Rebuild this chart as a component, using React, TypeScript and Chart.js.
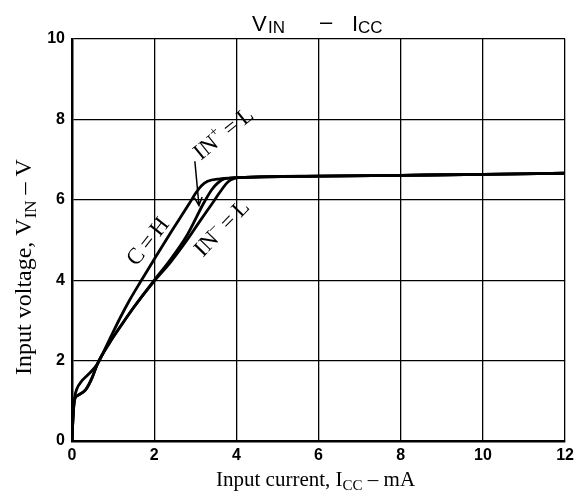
import { useEffect, useRef } from "react";
import { Chart, registerables } from "chart.js";

Chart.register(...registerables);

// Curve C = H
const CH_X = [0, 0.02, 0.06, 0.12, 0.22, 0.4, 0.62, 0.9, 1.17, 1.4, 1.66, 2.0, 2.4, 2.85, 3.0, 3.15, 3.3, 3.6, 4.2, 6, 8, 10, 12];
const CH_Y = [0, 0.5, 1.05, 1.3, 1.47, 1.66, 1.92, 2.5, 3.06, 3.5, 3.95, 4.52, 5.18, 5.9, 6.15, 6.35, 6.46, 6.52, 6.56, 6.59, 6.61, 6.63, 6.66];
// Curve IN+ = L
const INP_X = [0, 0.02, 0.06, 0.15, 0.33, 0.48, 0.62, 0.9, 1.2, 1.5, 1.98, 2.4, 2.8, 3.19, 3.4, 3.55, 3.7, 4.0, 4.2, 6, 8, 10, 12];
const INP_Y = [0, 0.5, 1.02, 1.14, 1.27, 1.55, 1.92, 2.42, 2.88, 3.32, 3.97, 4.52, 5.12, 5.89, 6.25, 6.42, 6.52, 6.55, 6.56, 6.59, 6.61, 6.63, 6.66];
// Curve IN- = L
const INM_X = [0, 0.02, 0.06, 0.15, 0.33, 0.48, 0.62, 0.9, 1.2, 1.5, 1.98, 2.4, 2.8, 3.1, 3.4, 3.62, 3.8, 3.95, 4.2, 6, 8, 10, 12];
const INM_Y = [0, 0.5, 1.02, 1.14, 1.27, 1.55, 1.92, 2.42, 2.88, 3.32, 3.95, 4.45, 5.0, 5.45, 5.89, 6.22, 6.45, 6.53, 6.56, 6.59, 6.61, 6.63, 6.66];

const X_MIN = 0, X_MAX = 12, X_STEP = 2;
const Y_MIN = 0, Y_MAX = 10, Y_STEP = 2;

// Annotation anchors (data units)
const LABEL_CH = { x: 1.86, y: 4.95, angle: -52 };
const LABEL_INP = { x: 3.7, y: 7.63, angle: -39 };
const LABEL_INM = { x: 3.66, y: 5.28, angle: -46 };
const ARROW_FROM = { x: 2.99, y: 6.96 };
const ARROW_TO = { x: 3.09, y: 5.86 };

type Seg = { t: string; size: number; dy?: number };

function drawRich(ctx: CanvasRenderingContext2D, segs: Seg[], x: number, y: number, angle: number, family: string, baseline: CanvasTextBaseline = "middle") {
  ctx.save();
  ctx.translate(x, y);
  ctx.rotate((angle * Math.PI) / 180);
  ctx.fillStyle = "#000";
  ctx.textBaseline = baseline;
  ctx.textAlign = "left";
  let w = 0;
  for (const s of segs) {
    ctx.font = `${s.size}px ${family}`;
    w += ctx.measureText(s.t).width;
  }
  let cx = -w / 2;
  for (const s of segs) {
    ctx.font = `${s.size}px ${family}`;
    ctx.fillText(s.t, cx, s.dy || 0);
    cx += ctx.measureText(s.t).width;
  }
  ctx.restore();
}

const SERIF = '"Liberation Serif", "Times New Roman", serif';
const SANS = '"Liberation Sans", Arial, sans-serif';
const TS = "\u2009"; // thin space

const annotations = {
  id: "annotations",
  afterDraw(chart: any) {
    const ctx: CanvasRenderingContext2D = chart.ctx;
    const xs = chart.scales.x;
    const ys = chart.scales.y;
    const px = (v: number) => xs.getPixelForValue(v);
    const py = (v: number) => ys.getPixelForValue(v);
    const area = chart.chartArea;

    // Title: V_IN  -  I_CC
    ctx.save();
    ctx.fillStyle = "#000";
    ctx.textBaseline = "alphabetic";
    ctx.font = `22px ${SANS}`;
    ctx.fillText("V", 252, 31);
    ctx.font = `17px ${SANS}`;
    ctx.fillText("IN", 268, 33);
    ctx.font = `22px ${SANS}`;
    ctx.fillText("–", 320, 29);
    ctx.fillText("I", 352, 31);
    ctx.font = `17px ${SANS}`;
    ctx.fillText("CC", 358, 33);
    ctx.restore();

    // X axis title
    drawRich(ctx, [
      { t: "Input current, ", size: 21 },
      { t: "I", size: 21 },
      { t: "CC", size: 15, dy: 4 },
      { t: " – mA", size: 21 },
    ], (area.left + area.right) / 2 - 3, 486, 0, SERIF, "alphabetic");

    // Y axis title
    drawRich(ctx, [
      { t: "Input voltage, V", size: 24 },
      { t: "IN", size: 17, dy: 5 },
      { t: " – V", size: 24 },
    ], 31, 267, -90, SERIF, "alphabetic");

    // Curve labels
    drawRich(ctx, [{ t: `C${TS}=${TS}H`, size: 23 }], px(LABEL_CH.x), py(LABEL_CH.y), LABEL_CH.angle, SERIF);
    drawRich(ctx, [
      { t: "IN", size: 23 },
      { t: "+", size: 14, dy: -8 },
      { t: ` =${TS}L`, size: 23 },
    ], px(LABEL_INP.x), py(LABEL_INP.y), LABEL_INP.angle, SERIF);
    drawRich(ctx, [
      { t: "IN", size: 23 },
      { t: "–", size: 14, dy: -8 },
      { t: ` =${TS}L`, size: 23 },
    ], px(LABEL_INM.x), py(LABEL_INM.y), LABEL_INM.angle, SERIF);

    // Arrow
    const x0 = px(ARROW_FROM.x), y0 = py(ARROW_FROM.y);
    const x1 = px(ARROW_TO.x), y1 = py(ARROW_TO.y);
    ctx.save();
    ctx.strokeStyle = "#000";
    ctx.lineWidth = 1.5;
    ctx.beginPath();
    ctx.moveTo(x0, y0);
    ctx.lineTo(x1, y1);
    const ang = Math.atan2(y1 - y0, x1 - x0);
    const hl = 9;
    ctx.moveTo(x1 - hl * Math.cos(ang - 0.45), y1 - hl * Math.sin(ang - 0.45));
    ctx.lineTo(x1, y1);
    ctx.lineTo(x1 - hl * Math.cos(ang + 0.45), y1 - hl * Math.sin(ang + 0.45));
    ctx.stroke();
    ctx.restore();
  },
};

function pts(xs: number[], ys: number[]) {
  return xs.map((x, i) => ({ x, y: ys[i] }));
}

export default function App() {
  const ref = useRef<HTMLCanvasElement>(null);
  useEffect(() => {
    const canvas = ref.current!;
    const lineStyle = {
      borderColor: "#000",
      borderWidth: 2.8,
      pointRadius: 0,
      showLine: true,
      fill: false,
      cubicInterpolationMode: "monotone" as const,
    };
    const tickFont = { family: SANS, weight: "bold" as const, size: 16 };
    const chart = new Chart(canvas, {
      type: "scatter",
      data: {
        datasets: [
          { label: "C = H", data: pts(CH_X, CH_Y), ...lineStyle },
          { label: "IN+ = L", data: pts(INP_X, INP_Y), ...lineStyle },
          { label: "IN- = L", data: pts(INM_X, INM_Y), ...lineStyle },
        ],
      },
      options: {
        responsive: false,
        animation: false,
        layout: { padding: { left: 0, top: 39, right: 13, bottom: 0 } },
        plugins: { legend: { display: false }, tooltip: { enabled: false } },
        scales: {
          x: {
            type: "linear",
            min: X_MIN,
            max: X_MAX,
            ticks: { stepSize: X_STEP, color: "#000", font: tickFont, padding: 5 },
            grid: { color: "#000", lineWidth: 1.3, drawTicks: false },
            border: { color: "#000", width: 2.5 },
            afterFit: (s: any) => { s.height = 52; },
          },
          y: {
            type: "linear",
            min: Y_MIN,
            max: Y_MAX,
            ticks: { stepSize: Y_STEP, color: "#000", font: tickFont, padding: 7 },
            grid: { color: "#000", lineWidth: 1.3, drawTicks: false },
            border: { color: "#000", width: 2.5 },
            afterFit: (s: any) => { s.width = 72; },
          },
        },
      },
      plugins: [annotations],
    });
    return () => chart.destroy();
  }, []);
  return (
    <div style={{ position: "absolute", left: 0, top: 0, width: 579, height: 493, background: "#fff" }}>
      <canvas ref={ref} width={579} height={493} style={{ display: "block" }} />
    </div>
  );
}
